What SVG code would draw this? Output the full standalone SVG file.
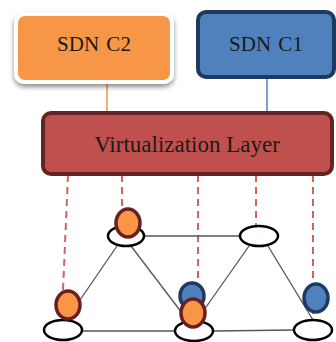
<svg xmlns="http://www.w3.org/2000/svg" width="336" height="342" viewBox="0 0 336 342">
<defs>
<filter id="sh" x="-20%" y="-20%" width="140%" height="150%">
<feGaussianBlur in="SourceAlpha" stdDeviation="2.5"/>
<feOffset dx="0" dy="3" result="b"/>
<feComponentTransfer><feFuncA type="linear" slope="0.45"/></feComponentTransfer>
<feMerge><feMergeNode/><feMergeNode in="SourceGraphic"/></feMerge>
</filter>
<style>
.lbl{font-family:"Liberation Serif","Times New Roman",serif;fill:#1a1a1a;text-anchor:middle}
.edge{stroke:#555;stroke-width:1.3;fill:none}
.dash{stroke:#D9605E;stroke-width:2;stroke-dasharray:7,5;fill:none}
.sw{fill:#fff;stroke:#000;stroke-width:2.5}
.or{fill:#F79646;stroke:#6B1E1E;stroke-width:3.5}
.bl{fill:#4F81BD;stroke:#1F3A60;stroke-width:3.5}
</style>
</defs>
<g id="connectors">
<line x1="107" y1="84" x2="107" y2="113" stroke="#F79646" stroke-width="1.5"/>
<line x1="267" y1="75" x2="267" y2="113" stroke="#4F81BD" stroke-width="1.5"/>
<line class="dash" x1="68" y1="175" x2="63" y2="290"/>
<line class="dash" x1="122" y1="175" x2="122" y2="208"/>
<line class="dash" x1="198" y1="175" x2="198" y2="285"/>
<line class="dash" x1="256" y1="175" x2="256" y2="226"/>
<line class="dash" x1="313" y1="175" x2="313" y2="318"/>
<line class="edge" x1="145" y1="236" x2="240" y2="236"/>
<line class="edge" x1="82" y1="331" x2="176" y2="331"/>
<line class="edge" x1="214" y1="331" x2="294" y2="330"/>
<line class="edge" x1="117" y1="246" x2="80" y2="300"/>
<line class="edge" x1="131" y1="246" x2="182" y2="313"/>
<line class="edge" x1="249" y1="246" x2="204" y2="310"/>
<line class="edge" x1="268" y1="246" x2="313" y2="320"/>
</g>
<g id="sdn-c2">
<rect x="14" y="12" width="160" height="72" rx="10" fill="#fff" filter="url(#sh)"/>
<rect x="18" y="16" width="152" height="64" rx="7" fill="#F79646"/>
<text class="lbl" x="94" y="51" font-size="21" word-spacing="2">SDN C2</text>
</g>
<g id="sdn-c1">
<rect x="198" y="12" width="136" height="65" rx="8" fill="#4F81BD" stroke="#1F3A60" stroke-width="4"/>
<text class="lbl" x="266" y="51" font-size="21" word-spacing="2">SDN C1</text>
</g>
<g id="virtualization-layer">
<rect x="43" y="113" width="289" height="61" rx="8" fill="#C0504D" stroke="#632523" stroke-width="4"/>
<text class="lbl" x="187" y="152" font-size="23">Virtualization Layer</text>
</g>
<g id="n-tl"><ellipse class="sw" cx="126" cy="236" rx="18" ry="10"/><ellipse class="or" cx="128" cy="223" rx="12" ry="14"/></g>
<g id="n-tr"><ellipse class="sw" cx="259" cy="236" rx="19" ry="10"/></g>
<g id="n-bl"><ellipse class="sw" cx="63" cy="330" rx="19" ry="10"/><ellipse class="or" cx="68" cy="305" rx="12" ry="14"/></g>
<g id="n-bm"><ellipse class="sw" cx="194" cy="331" rx="19" ry="10"/><ellipse class="bl" cx="192" cy="296" rx="12" ry="13"/><ellipse class="or" cx="193" cy="313" rx="12" ry="14"/></g>
<g id="n-br"><ellipse class="sw" cx="313" cy="330" rx="19" ry="10"/><ellipse class="bl" cx="316" cy="298" rx="12" ry="14"/></g>
</svg>
